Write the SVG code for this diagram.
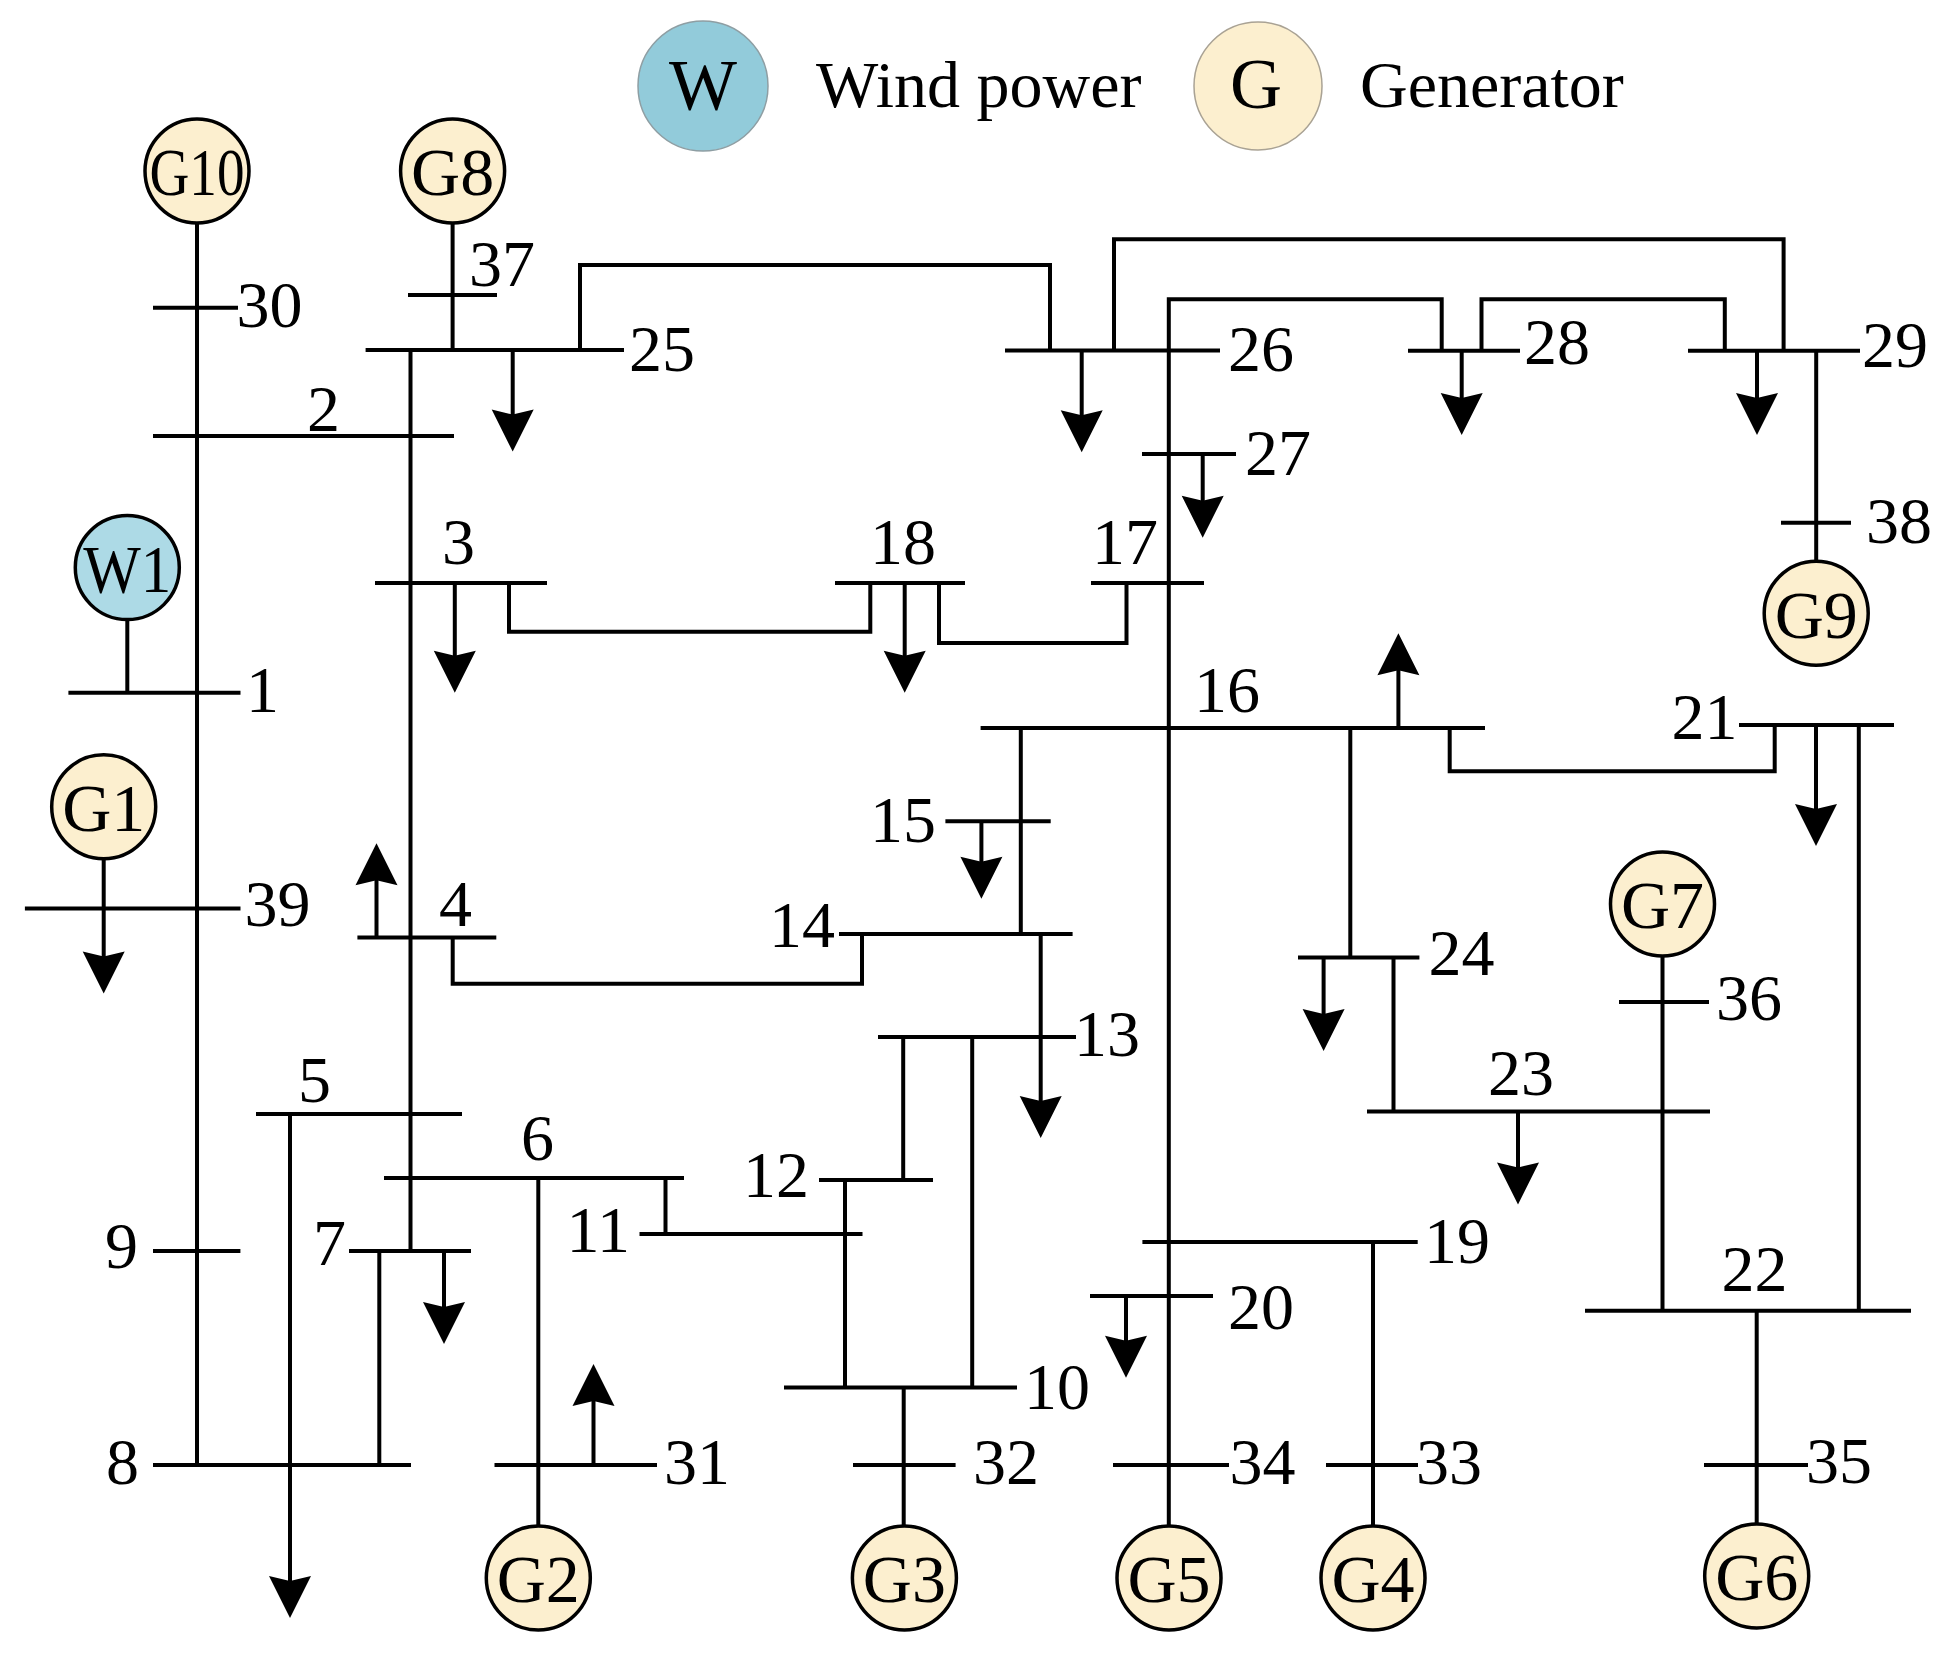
<svg xmlns="http://www.w3.org/2000/svg" xmlns:xlink="http://www.w3.org/1999/xlink" width="1949" height="1658" viewBox="0 0 1949 1658">
<style>
.b{stroke:#000;stroke-width:4;fill:none;stroke-linecap:butt}
.c{stroke:#000;stroke-width:4;fill:none;stroke-linejoin:miter}
.t{font-family:"Liberation Serif","Times New Roman",serif;font-size:66px;fill:#000}
.gt{font-family:"Liberation Serif","Times New Roman",serif;font-size:68px;fill:#000;text-anchor:middle}
.g{fill:#FCEFCF;stroke:#000;stroke-width:3.5}
.w{fill:#ADDAE6;stroke:#000;stroke-width:3.5}
.ah{fill:#000}
</style>
<defs>
<path id="ah" d="M0,0 L-21,-42 L0,-37 L21,-42 Z"/>
</defs>
<rect width="1949" height="1658" fill="#fff"/>

<g id="legend">
<circle cx="703" cy="86" r="65" fill="#92CBDA" stroke="#8E9EA3" stroke-width="1.5"/>
<text class="gt" x="703" y="109" style="font-size:72px">W</text>
<text class="t" x="816" y="107" style="font-size:66px">Wind power</text>
<circle cx="1258" cy="86" r="64" fill="#FCEFCF" stroke="#A9A294" stroke-width="1.5"/>
<text class="gt" x="1256" y="108" style="font-size:72px">G</text>
<text class="t" x="1360" y="107" style="font-size:66px">Generator</text>
</g>

<g id="connectors">
<line class="c" x1="197" y1="223" x2="197" y2="1465"/>
<line class="c" x1="452.6" y1="223" x2="452.6" y2="350"/>
<line class="c" x1="410.5" y1="350" x2="410.5" y2="1251"/>
<polyline class="c" points="580,350 580,265 1050,265 1050,350.5"/>
<polyline class="c" points="1114,350.5 1114,239.3 1783.6,239.3 1783.6,350.7"/>
<polyline class="c" points="1168.8,350.5 1168.8,299.3 1441.7,299.3 1441.7,350.7"/>
<polyline class="c" points="1481.5,350.7 1481.5,299.3 1724.8,299.3 1724.8,350.7"/>
<line class="c" x1="1168.8" y1="350" x2="1168.8" y2="1526"/>
<line class="c" x1="1816.2" y1="350.7" x2="1816.2" y2="561"/>
<line class="c" x1="127.3" y1="619.6" x2="127.3" y2="692.8"/>
<polyline class="c" points="509,583 509,631.8 870.3,631.8 870.3,583"/>
<polyline class="c" points="939,583 939,643 1126.5,643 1126.5,583"/>
<line class="c" x1="1020.8" y1="728" x2="1020.8" y2="934"/>
<polyline class="c" points="452.7,937.4 452.7,983.8 862,983.8 862,934"/>
<line class="c" x1="1350.3" y1="728" x2="1350.3" y2="957.6"/>
<polyline class="c" points="1449.7,728 1449.7,771.3 1774.7,771.3 1774.7,725"/>
<line class="c" x1="1858.8" y1="725" x2="1858.8" y2="1310.7"/>
<line class="c" x1="1662.5" y1="956" x2="1662.5" y2="1310.7"/>
<line class="c" x1="1393.5" y1="957.6" x2="1393.5" y2="1111.4"/>
<line class="c" x1="903.2" y1="1037" x2="903.2" y2="1180"/>
<line class="c" x1="972.2" y1="1037" x2="972.2" y2="1387.4"/>
<line class="c" x1="845" y1="1180" x2="845" y2="1387.4"/>
<line class="c" x1="903.7" y1="1387.4" x2="903.7" y2="1527"/>
<line class="c" x1="665.5" y1="1178" x2="665.5" y2="1234"/>
<line class="c" x1="538.3" y1="1178" x2="538.3" y2="1526"/>
<line class="c" x1="379.3" y1="1251" x2="379.3" y2="1465"/>
<line class="c" x1="1373" y1="1242" x2="1373" y2="1526"/>
<line class="c" x1="1756.7" y1="1310.7" x2="1756.7" y2="1524"/>
</g>

<g id="loads">
<line class="c" x1="512.7" y1="350" x2="512.7" y2="416"/><use href="#ah" xlink:href="#ah" x="512.7" y="451.6"/>
<line class="c" x1="1081.7" y1="350.5" x2="1081.7" y2="417"/><use href="#ah" xlink:href="#ah" x="1081.7" y="452.3"/>
<line class="c" x1="1461.7" y1="350.7" x2="1461.7" y2="400"/><use href="#ah" xlink:href="#ah" x="1461.7" y="435"/>
<line class="c" x1="1757" y1="350.7" x2="1757" y2="400"/><use href="#ah" xlink:href="#ah" x="1757" y="435"/>
<line class="c" x1="1202.7" y1="454" x2="1202.7" y2="503"/><use href="#ah" xlink:href="#ah" x="1202.7" y="537.7"/>
<line class="c" x1="454.8" y1="583" x2="454.8" y2="658"/><use href="#ah" xlink:href="#ah" x="454.8" y="692.8"/>
<line class="c" x1="904.7" y1="583" x2="904.7" y2="658"/><use href="#ah" xlink:href="#ah" x="904.7" y="692.8"/>
<line class="c" x1="981.4" y1="821.3" x2="981.4" y2="864"/><use href="#ah" xlink:href="#ah" x="981.4" y="898.8"/>
<line class="c" x1="1816" y1="725" x2="1816" y2="811"/><use href="#ah" xlink:href="#ah" x="1816" y="846"/>
<line class="c" x1="103.7" y1="858.8" x2="103.7" y2="958"/><use href="#ah" xlink:href="#ah" x="103.7" y="993.4"/>
<line class="c" x1="1323.6" y1="957.6" x2="1323.6" y2="1016"/><use href="#ah" xlink:href="#ah" x="1323.6" y="1051"/>
<line class="c" x1="1040.7" y1="934" x2="1040.7" y2="1103"/><use href="#ah" xlink:href="#ah" x="1040.7" y="1138"/>
<line class="c" x1="1518" y1="1111.4" x2="1518" y2="1170"/><use href="#ah" xlink:href="#ah" x="1518" y="1204.5"/>
<line class="c" x1="444" y1="1251" x2="444" y2="1309"/><use href="#ah" xlink:href="#ah" x="444" y="1344"/>
<line class="c" x1="1126" y1="1296" x2="1126" y2="1343"/><use href="#ah" xlink:href="#ah" x="1126" y="1377.7"/>
<line class="c" x1="290" y1="1114" x2="290" y2="1583"/><use href="#ah" xlink:href="#ah" x="290" y="1618"/>
<line class="c" x1="376.5" y1="937.4" x2="376.5" y2="878"/><use href="#ah" xlink:href="#ah" transform="translate(376.5,843.3) rotate(180)"/>
<line class="c" x1="1398.4" y1="728" x2="1398.4" y2="668"/><use href="#ah" xlink:href="#ah" transform="translate(1398.4,633.3) rotate(180)"/>
<line class="c" x1="593.5" y1="1465" x2="593.5" y2="1399"/><use href="#ah" xlink:href="#ah" transform="translate(593.5,1364) rotate(180)"/>
</g>

<g id="bus-30"><line class="b" x1="153" y1="307.7" x2="238" y2="307.7"/><text class="t" x="236.5" y="327">30</text></g>
<g id="bus-37"><line class="b" x1="408" y1="295" x2="497" y2="295"/><text class="t" x="469" y="285.6">37</text></g>
<g id="bus-25"><line class="b" x1="365.6" y1="350" x2="624" y2="350"/><text class="t" x="629" y="371">25</text></g>
<g id="bus-2"><line class="b" x1="153" y1="436" x2="454" y2="436"/><text class="t" x="307" y="431">2</text></g>
<g id="bus-1"><line class="b" x1="68.4" y1="692.8" x2="240.5" y2="692.8"/><text class="t" x="246" y="712">1</text></g>
<g id="bus-39"><line class="b" x1="24.9" y1="908.4" x2="240.5" y2="908.4"/><text class="t" x="244.5" y="926">39</text></g>
<g id="bus-3"><line class="b" x1="375" y1="583" x2="547" y2="583"/><text class="t" x="442" y="564">3</text></g>
<g id="bus-18"><line class="b" x1="835" y1="583" x2="965" y2="583"/><text class="t" x="870" y="564">18</text></g>
<g id="bus-17"><line class="b" x1="1091" y1="583" x2="1204" y2="583"/><text class="t" x="1092" y="564">17</text></g>
<g id="bus-26"><line class="b" x1="1005" y1="350.5" x2="1220" y2="350.5"/><text class="t" x="1228" y="371">26</text></g>
<g id="bus-27"><line class="b" x1="1142" y1="454" x2="1236" y2="454"/><text class="t" x="1245" y="475">27</text></g>
<g id="bus-28"><line class="b" x1="1408" y1="350.7" x2="1520" y2="350.7"/><text class="t" x="1524" y="364">28</text></g>
<g id="bus-29"><line class="b" x1="1688" y1="350.7" x2="1860" y2="350.7"/><text class="t" x="1862" y="367">29</text></g>
<g id="bus-38"><line class="b" x1="1781" y1="522.7" x2="1851" y2="522.7"/><text class="t" x="1866" y="543">38</text></g>
<g id="bus-16"><line class="b" x1="980.6" y1="728" x2="1485" y2="728"/><text class="t" x="1194" y="712">16</text></g>
<g id="bus-15"><line class="b" x1="945.4" y1="821.3" x2="1050.7" y2="821.3"/><text class="t" x="870" y="842">15</text></g>
<g id="bus-21"><line class="b" x1="1739" y1="725" x2="1894" y2="725"/><text class="t" x="1671.5" y="739">21</text></g>
<g id="bus-4"><line class="b" x1="357.4" y1="937.4" x2="496.3" y2="937.4"/><text class="t" x="439" y="926">4</text></g>
<g id="bus-14"><line class="b" x1="839" y1="934" x2="1072.6" y2="934"/><text class="t" x="769" y="946.5">14</text></g>
<g id="bus-24"><line class="b" x1="1298" y1="957.6" x2="1419.4" y2="957.6"/><text class="t" x="1428.5" y="974.5">24</text></g>
<g id="bus-36"><line class="b" x1="1619" y1="1002" x2="1709" y2="1002"/><text class="t" x="1716" y="1020">36</text></g>
<g id="bus-13"><line class="b" x1="878" y1="1037" x2="1076" y2="1037"/><text class="t" x="1074" y="1055.6">13</text></g>
<g id="bus-23"><line class="b" x1="1367" y1="1111.4" x2="1710" y2="1111.4"/><text class="t" x="1488" y="1095">23</text></g>
<g id="bus-5"><line class="b" x1="256" y1="1114" x2="462" y2="1114"/><text class="t" x="298" y="1102">5</text></g>
<g id="bus-6"><line class="b" x1="384" y1="1178" x2="684" y2="1178"/><text class="t" x="521" y="1160">6</text></g>
<g id="bus-12"><line class="b" x1="819" y1="1180" x2="933" y2="1180"/><text class="t" x="743" y="1197">12</text></g>
<g id="bus-11"><line class="b" x1="639.5" y1="1234" x2="862.5" y2="1234"/><text class="t" x="566.5" y="1251.7">11</text></g>
<g id="bus-9"><line class="b" x1="153" y1="1251" x2="240.4" y2="1251"/><text class="t" x="105" y="1268">9</text></g>
<g id="bus-7"><line class="b" x1="349" y1="1251" x2="471" y2="1251"/><text class="t" x="313" y="1265">7</text></g>
<g id="bus-19"><line class="b" x1="1142.4" y1="1242" x2="1417.7" y2="1242"/><text class="t" x="1424" y="1262.5">19</text></g>
<g id="bus-20"><line class="b" x1="1090" y1="1296" x2="1213" y2="1296"/><text class="t" x="1228" y="1329">20</text></g>
<g id="bus-22"><line class="b" x1="1585" y1="1310.7" x2="1911" y2="1310.7"/><text class="t" x="1721.5" y="1290.6">22</text></g>
<g id="bus-10"><line class="b" x1="784" y1="1387.4" x2="1017" y2="1387.4"/><text class="t" x="1024" y="1408.7">10</text></g>
<g id="bus-8"><line class="b" x1="153" y1="1465" x2="411" y2="1465"/><text class="t" x="106" y="1483.6">8</text></g>
<g id="bus-31"><line class="b" x1="494.5" y1="1465" x2="657" y2="1465"/><text class="t" x="664" y="1483.6">31</text></g>
<g id="bus-32"><line class="b" x1="853" y1="1465" x2="955.6" y2="1465"/><text class="t" x="973" y="1483.6">32</text></g>
<g id="bus-34"><line class="b" x1="1113" y1="1465" x2="1229" y2="1465"/><text class="t" x="1229.5" y="1483.6">34</text></g>
<g id="bus-33"><line class="b" x1="1326" y1="1465" x2="1418" y2="1465"/><text class="t" x="1416" y="1483.6">33</text></g>
<g id="bus-35"><line class="b" x1="1704" y1="1465" x2="1808" y2="1465"/><text class="t" x="1806" y="1483">35</text></g>

<g id="gen-G10"><circle class="g" cx="197" cy="171" r="52"/><text class="gt" x="197" y="195" textLength="95" lengthAdjust="spacingAndGlyphs">G10</text></g>
<g id="gen-G8"><circle class="g" cx="452.6" cy="171" r="52"/><text class="gt" x="452.6" y="195">G8</text></g>
<g id="gen-W1"><circle class="w" cx="127.3" cy="567.6" r="52"/><text class="gt" x="127.3" y="592" textLength="88" lengthAdjust="spacingAndGlyphs">W1</text></g>
<g id="gen-G1"><circle class="g" cx="103.7" cy="806.8" r="52"/><text class="gt" x="103.7" y="831">G1</text></g>
<g id="gen-G9"><circle class="g" cx="1816.2" cy="613.3" r="52"/><text class="gt" x="1816.2" y="637.5">G9</text></g>
<g id="gen-G7"><circle class="g" cx="1662.5" cy="904" r="52"/><text class="gt" x="1662.5" y="928">G7</text></g>
<g id="gen-G2"><circle class="g" cx="538.3" cy="1578" r="52"/><text class="gt" x="538.3" y="1602">G2</text></g>
<g id="gen-G3"><circle class="g" cx="904.4" cy="1578" r="52"/><text class="gt" x="904.4" y="1602">G3</text></g>
<g id="gen-G5"><circle class="g" cx="1169" cy="1578" r="52"/><text class="gt" x="1169" y="1602">G5</text></g>
<g id="gen-G4"><circle class="g" cx="1373" cy="1578" r="52"/><text class="gt" x="1373" y="1602">G4</text></g>
<g id="gen-G6"><circle class="g" cx="1756.7" cy="1576" r="52"/><text class="gt" x="1756.7" y="1600">G6</text></g>
</svg>
